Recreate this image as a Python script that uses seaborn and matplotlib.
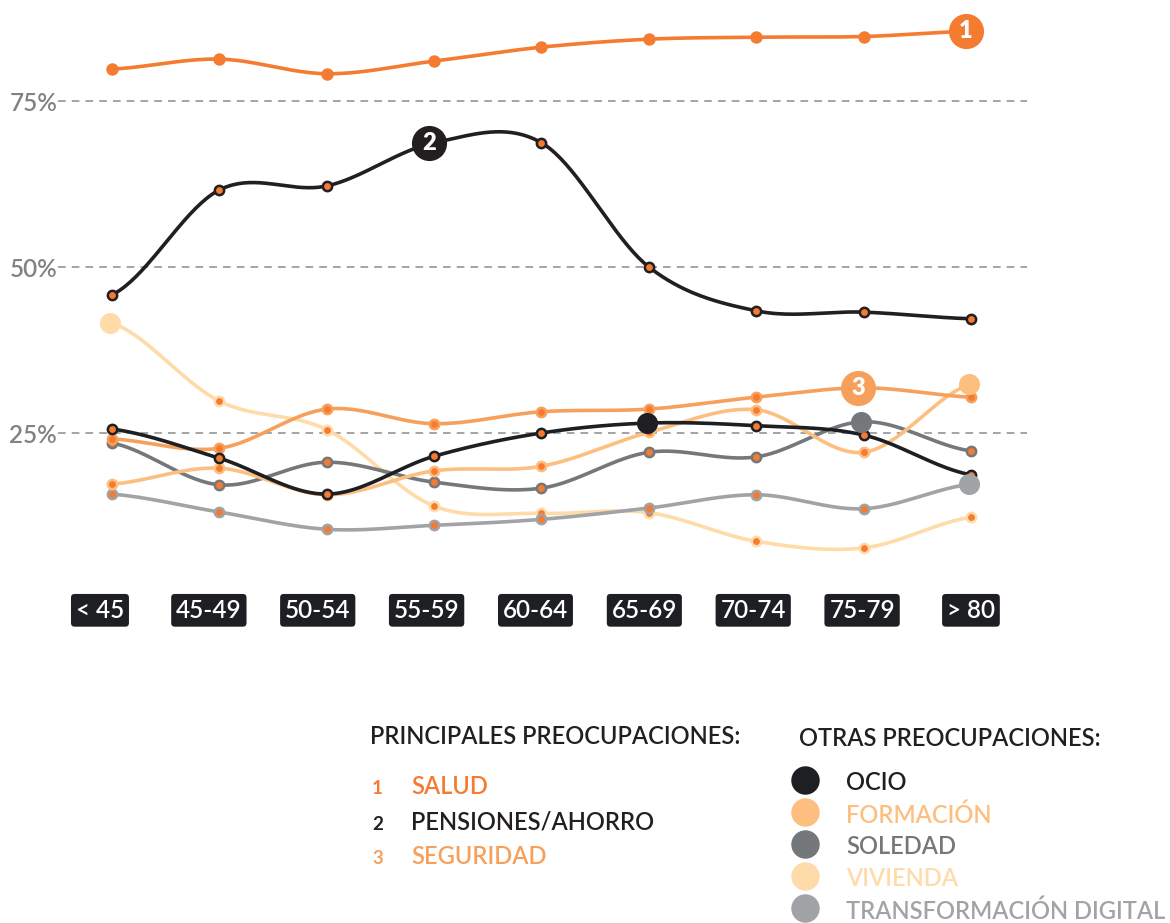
import numpy as np
import matplotlib
matplotlib.use('Agg')
import matplotlib.pyplot as plt
import seaborn as sns

sns.set_theme(style="white")
plt.rcParams['font.family'] = ['Lato', 'DejaVu Sans']

# Age groups and share of people citing each concern (%)
AGE_GROUPS = ['< 45', '45-49', '50-54', '55-59', '60-64', '65-69', '70-74', '75-79', '> 80']
SALUD = [79.8, 81.3, 79.1, 81.0, 83.1, 84.3, 84.6, 84.7, 85.5]
PENSIONES = [45.8, 61.6, 62.2, 68.7, 68.7, 50.0, 43.4, 43.2, 42.2]
SEGURIDAD = [24.1, 22.7, 28.6, 26.4, 28.2, 28.6, 30.4, 31.8, 30.4]
OCIO = [25.6, 21.2, 15.8, 21.5, 25.0, 26.5, 26.1, 24.7, 18.7]
FORMACION = [17.3, 19.7, 15.7, 19.3, 20.0, 25.1, 28.5, 22.1, 32.4]
SOLEDAD = [23.5, 17.2, 20.6, 17.6, 16.7, 22.1, 21.4, 26.7, 22.3]
VIVIENDA = [41.6, 29.8, 25.5, 14.0, 12.9, 13.0, 8.7, 7.7, 12.3]
TRANSFORMACION = [15.8, 13.1, 10.5, 11.1, 12.0, 13.7, 15.7, 13.6, 17.3]

MAIN_NAMES = ['SALUD', 'PENSIONES/AHORRO', 'SEGURIDAD']
OTHER_NAMES = ['OCIO', 'FORMACIÓN', 'SOLEDAD', 'VIVIENDA', 'TRANSFORMACIÓN DIGITAL']

ORANGE = '#F47B30'
BLACK = '#231F20'
MID_ORANGE = '#F6A05C'
C_OCIO = '#1D1F22'
C_FORM = '#FDBF80'
C_SOLE = '#75787B'
C_VIVI = '#FEDBA8'
C_TRAN = '#A1A3A6'
GRID = '#8A8C8E'


def smooth(values, steps=40):
    """Catmull-Rom curve through the points (uniform x)."""
    y = np.asarray(values, float)
    n = len(y)
    m = np.empty(n)
    m[1:-1] = (y[2:] - y[:-2]) / 2
    m[0] = (y[1] - y[0]) / 2
    m[-1] = (y[-1] - y[-2]) / 2
    xs, ys = [], []
    for i in range(n - 1):
        t = np.linspace(0, 1, steps, endpoint=(i == n - 2))
        h00 = 2 * t**3 - 3 * t**2 + 1
        h10 = t**3 - 2 * t**2 + t
        h01 = -2 * t**3 + 3 * t**2
        h11 = t**3 - t**2
        xs.append(i + t)
        ys.append(h00 * y[i] + h10 * m[i] + h01 * y[i + 1] + h11 * m[i + 1])
    return np.concatenate(xs), np.concatenate(ys)


fig = plt.figure(figsize=(11.7, 9.23), dpi=100)
# axes: x from px 58 to 1027, y from px 0 to 640
ax = fig.add_axes([58 / 1170, 1 - 640 / 923, (1027 - 58) / 1170, 640 / 923])
ax.set_xlim(-0.503, 8.522)
ax.set_ylim(-6.17, 90.2)
ax.axis('off')

for level in [25, 50, 75]:
    ax.axhline(level, color=GRID, lw=1.1, ls=(0, (5, 4)), zorder=1)
    ax.text(-0.51, level - 0.4, f'{level}%', ha='right', va='center', fontsize=17.5,
            color='#808285', fontweight='semibold')

idx = np.arange(len(AGE_GROUPS))

# series: values, line colour, highlighted index, highlight kind
series = [
    (VIVIENDA, C_VIVI, 0, 'dot'),
    (TRANSFORMACION, C_TRAN, 8, 'dot'),
    (SOLEDAD, C_SOLE, 7, 'dot'),
    (FORMACION, C_FORM, 8, 'dot'),
    (SEGURIDAD, MID_ORANGE, 7, '3'),
    (OCIO, C_OCIO, 5, 'dot'),
    (PENSIONES, BLACK, 3, '2'),
    (SALUD, ORANGE, 8, '1'),
]

z = 2
for vals, col, hi, kind in series:
    xs, ys = smooth(vals)
    sns.lineplot(x=xs, y=ys, sort=False, estimator=None, color=col, lw=2.6, ax=ax, zorder=z)
    keep = [i for i in idx if i != hi]
    if vals is SALUD:
        sns.scatterplot(x=idx[keep], y=np.array(vals)[keep], s=80, color=ORANGE,
                        edgecolor=ORANGE, linewidth=0, ax=ax, zorder=z + 0.5)
    else:
        sns.scatterplot(x=idx[keep], y=np.array(vals)[keep], s=45, color=ORANGE,
                        edgecolor=col, linewidth=1.8, ax=ax, zorder=z + 0.5)
    if kind == 'dot':
        sns.scatterplot(x=[hi - 0.02], y=[vals[hi]], s=230, color=col, linewidth=0,
                        ax=ax, zorder=30)
    else:
        sns.scatterplot(x=[hi - 0.05], y=[vals[hi]], s=640, color=col, linewidth=0,
                        ax=ax, zorder=30)
        ax.text(hi - 0.05, vals[hi], kind, ha='center', va='center', color='white',
                fontsize=17, fontweight='heavy', zorder=31)
    z += 1

# age group boxes (slightly tighter spacing than the data points)
box_x = -0.112 + idx * (8.112 / 8)
for bx, lab in zip(box_x, AGE_GROUPS):
    ax.text(bx, -1.7, lab, ha='center', va='center', color='white', fontsize=17.5,
            fontweight='semibold', zorder=40,
            bbox=dict(boxstyle='round,pad=0.2,rounding_size=0.15', fc='#1D1F22', ec='none'))

# legend drawn in pixel space
lax = fig.add_axes([0, 0, 1, 1])
lax.set_xlim(0, 1170)
lax.set_ylim(923, 0)
lax.axis('off')

LEG_FS = 17
lax.text(370, 737, 'PRINCIPALES PREOCUPACIONES:', ha='left', va='center', fontsize=LEG_FS,
         color=BLACK, fontweight='semibold')
for k, (name, col) in enumerate(zip(MAIN_NAMES, [ORANGE, BLACK, MID_ORANGE])):
    y = 787 + 35 * k
    lax.text(372, y + 2, str(k + 1), ha='left', va='center', fontsize=13.5, color=col,
             fontweight='bold')
    lax.text(411, y, name, ha='left', va='center', fontsize=LEG_FS, color=col,
             fontweight='semibold')

lax.text(799, 739, 'OTRAS PREOCUPACIONES:', ha='left', va='center', fontsize=LEG_FS,
         color=BLACK, fontweight='semibold')
other_cols = [C_OCIO, C_FORM, C_SOLE, C_VIVI, C_TRAN]
for k, (name, col) in enumerate(zip(OTHER_NAMES, other_cols)):
    y = 782 + 32 * k
    lax.scatter([805], [y - 2], s=420, color=col, linewidth=0)
    lax.text(846, y + 1, name, ha='left', va='center', fontsize=LEG_FS, color=col,
             fontweight='semibold')

fig.savefig('out.png', dpi=100, facecolor='white')
